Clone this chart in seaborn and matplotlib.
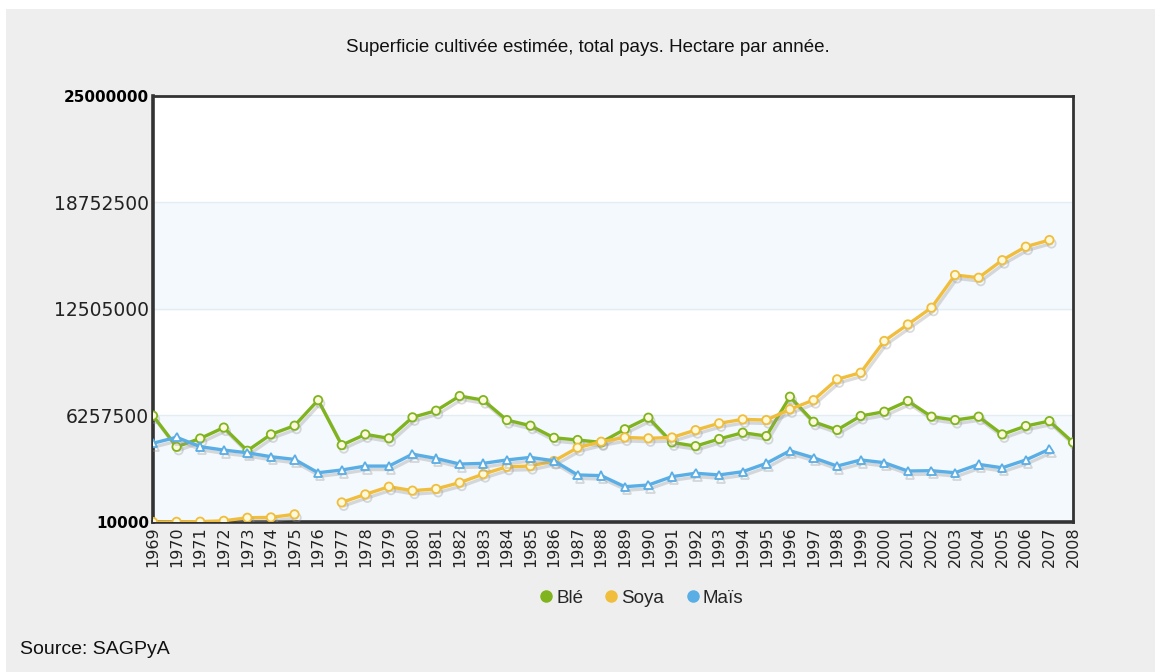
import matplotlib
matplotlib.use("Agg")
import matplotlib.pyplot as plt
import matplotlib.patheffects as pe
from matplotlib.lines import Line2D
from matplotlib.patches import Rectangle
import numpy as np
import pandas as pd
import seaborn as sns

# Données (hectares)
years = list(range(1969, 2009))

ble = [6.25e6, 4.42e6, 4.91e6, 5.55e6, 4.19e6, 5.15e6, 5.66e6, 7.16e6, 4.52e6, 5.15e6,
       4.92e6, 6.15e6, 6.54e6, 7.40e6, 7.16e6, 5.99e6, 5.66e6, 4.95e6, 4.82e6, 4.68e6,
       5.45e6, 6.13e6, 4.68e6, 4.46e6, 4.88e6, 5.25e6, 5.05e6, 7.36e6, 5.89e6, 5.41e6,
       6.23e6, 6.48e6, 7.11e6, 6.19e6, 5.99e6, 6.19e6, 5.15e6, 5.64e6, 5.93e6, 4.68e6]

soya = [0.01e6, 0.02e6, 0.03e6, 0.08e6, 0.26e6, 0.28e6, 0.46e6, np.nan, 1.16e6, 1.63e6,
        2.08e6, 1.85e6, 1.95e6, 2.32e6, 2.82e6, 3.25e6, 3.29e6, 3.59e6, 4.37e6, 4.72e6,
        4.97e6, 4.92e6, 4.97e6, 5.40e6, 5.80e6, 6.03e6, 5.99e6, 6.62e6, 7.16e6, 8.38e6,
        8.77e6, 10.63e6, 11.60e6, 12.58e6, 14.50e6, 14.34e6, 15.37e6, 16.16e6, 16.55e6, np.nan]

mais = [4.63e6, 4.98e6, 4.43e6, 4.23e6, 4.07e6, 3.84e6, 3.68e6, 2.90e6, 3.06e6, 3.29e6,
        3.29e6, 3.99e6, 3.74e6, 3.41e6, 3.45e6, 3.65e6, 3.80e6, 3.60e6, 2.77e6, 2.73e6,
        2.08e6, 2.18e6, 2.67e6, 2.87e6, 2.77e6, 2.96e6, 3.45e6, 4.19e6, 3.78e6, 3.29e6,
        3.65e6, 3.49e6, 3.00e6, 3.02e6, 2.90e6, 3.39e6, 3.19e6, 3.65e6, 4.28e6, np.nan]

cultures = ['Blé', 'Soya', 'Maïs']
y_ticks = [10000, 6257500, 12505000, 18752500, 25000000]

colors = {'Blé': '#80b41e', 'Soya': '#f0be3c', 'Maïs': '#5aaee6'}
markers = {'Blé': 'o', 'Soya': 'o', 'Maïs': '^'}

# table longue, un segment par morceau continu (la soya a un trou en 1976)
rows = []
for name, vals in zip(cultures, [ble, soya, mais]):
    seg = 0
    for yr, v in zip(years, vals):
        if np.isnan(v):
            seg += 1
            continue
        rows.append({'annee': yr, 'ha': v, 'culture': name, 'seg': f'{name}{seg}'})
df = pd.DataFrame(rows)

sns.set_theme(style="white")
plt.rcParams['font.family'] = ['DejaVu Sans']

fig = plt.figure(figsize=(11.55, 6.72), dpi=100, facecolor='white')
fig.patches.append(Rectangle((6 / 1155, 0), 1, 663 / 672, transform=fig.transFigure,
                             facecolor='#eeeeee', edgecolor='none', zorder=-10))
ax = fig.add_axes([153 / 1155, 1 - 522 / 672, 920 / 1155, 426 / 672])
ax.set_facecolor('white')

# bandes de fond
ax.axhspan(y_ticks[0], y_ticks[1], color='#f4f9fd', zorder=0)
ax.axhspan(y_ticks[2], y_ticks[3], color='#f4f9fd', zorder=0)
for t in y_ticks[1:-1]:
    ax.axhline(t, color='#e2edf4', lw=1, zorder=0.5)

sns.lineplot(data=df, x='annee', y='ha', hue='culture', units='seg', estimator=None,
             style='culture', markers=markers, dashes=False, palette=colors,
             hue_order=cultures, style_order=cultures, lw=2.4, markersize=6,
             legend=False, ax=ax, zorder=3)

for line in ax.lines:
    c = line.get_color()
    if line.get_marker() in ('o', '^'):
        line.set_markeredgecolor(c)
        line.set_markerfacecolor('#fdf9dc' if line.get_marker() == 'o' else 'white')
        line.set_markeredgewidth(1.3)
        line.set_path_effects([pe.SimpleLineShadow(offset=(1.5, -2.5), shadow_color='#999999', alpha=0.35),
                               pe.Normal()])

ax.set_xlim(1969, 2008)
ax.set_ylim(y_ticks[0], y_ticks[-1])
ax.set_xticks(years)
ax.set_xticklabels([str(y) for y in years], rotation=90, fontsize=11.5, color='#222222')
ax.set_yticks(y_ticks)
ax.set_yticklabels([str(t) for t in y_ticks], fontsize=13.5, color='#222222')
for i in (0, -1):
    ax.get_yticklabels()[i].set_fontweight('bold')
    ax.get_yticklabels()[i].set_fontsize(11)
    ax.get_yticklabels()[i].set_color('black')
ax.tick_params(axis='both', length=0, pad=3)
ax.set_xlabel('')
ax.set_ylabel('')

for side in ['left', 'bottom']:
    ax.spines[side].set_linewidth(2.6)
    ax.spines[side].set_color('#333333')
for side in ['top', 'right']:
    ax.spines[side].set_linewidth(2)
    ax.spines[side].set_color('#333333')
    ax.spines[side].set_visible(True)

fig.text(588 / 1155, 1 - 47 / 672, 'Superficie cultivée estimée, total pays. Hectare par année.',
         ha='center', va='center', fontsize=13.5, family='Liberation Sans', color='#111111')

handles = [Line2D([], [], marker='o', ls='none', color=colors[c], markersize=8) for c in cultures]
fig.legend(handles, cultures, loc='center', bbox_to_anchor=(640 / 1155, 1 - 598 / 672), ncol=3,
           frameon=False, handletextpad=0.05, columnspacing=1.0, handlelength=1,
           prop={'family': 'Liberation Sans', 'size': 13.5})

fig.text(20 / 1155, 1 - 650 / 672, 'Source: SAGPyA', ha='left', va='center', fontsize=14,
         family='Liberation Sans', color='#111111')

fig.savefig('out.png', dpi=100, facecolor=fig.get_facecolor())
